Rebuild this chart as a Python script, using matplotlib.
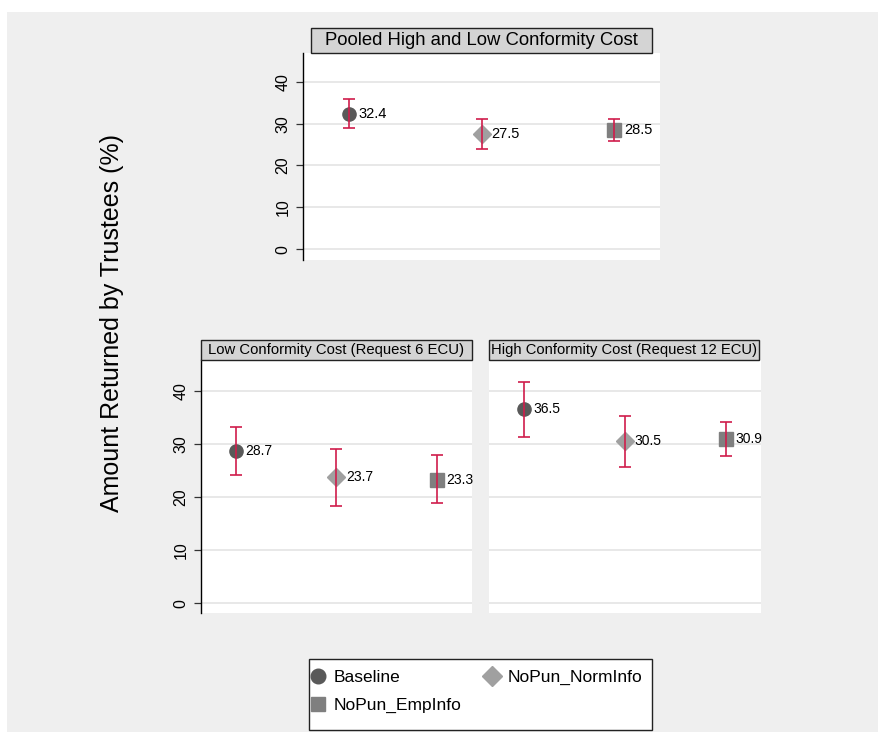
import numpy as np
import matplotlib.pyplot as plt
from matplotlib.patches import Rectangle
from matplotlib.lines import Line2D

plt.rcParams['font.family'] = ['Liberation Sans', 'DejaVu Sans']

# data
groups = ['Baseline', 'NoPun_NormInfo', 'NoPun_EmpInfo']
pooled_mean = [32.4, 27.5, 28.5]
pooled_lo = [29.0, 24.0, 25.9]
pooled_hi = [35.9, 31.2, 31.2]
low_mean = [28.7, 23.7, 23.3]
low_lo = [24.2, 18.4, 18.8]
low_hi = [33.2, 29.1, 28.0]
high_mean = [36.5, 30.5, 30.9]
high_lo = [31.3, 25.7, 27.7]
high_hi = [41.7, 35.3, 34.2]

markers = ['o', 'D', 's']
mcolors = ['#595959', '#a0a0a0', '#7f7f7f']
msizes = [9.5, 9.5, 9.5]
ci_color = '#d01c4b'

W, H = 879, 732
fig = plt.figure(figsize=(W / 100, H / 100), dpi=100, facecolor='white')

# gray plot region
fig.patches.append(Rectangle((7 / W, 0), (W - 7) / W, (H - 12) / H,
                             transform=fig.transFigure, facecolor='#efefef',
                             edgecolor='none', zorder=-5))


def px_rect(x0, y0, x1, y1):
    return [x0 / W, 1 - y1 / H, (x1 - x0) / W, (y1 - y0) / H]


def panel(rect, mean, lo, hi, ylim, title, title_box, tfs, show_y, lfs):
    ax = fig.add_axes(px_rect(*rect))
    ax.set_facecolor('white')
    x = np.arange(1, 4)
    for i in range(3):
        ax.errorbar(x[i], mean[i], yerr=[[mean[i] - lo[i]], [hi[i] - mean[i]]],
                    fmt='none', ecolor=ci_color, elinewidth=1.2, capsize=4,
                    capthick=1.2, zorder=4)
        ax.plot(x[i], mean[i], marker=markers[i], color=mcolors[i],
                markersize=msizes[i], linestyle='none', zorder=3)
        ax.annotate(f'{mean[i]:.1f}', (x[i], mean[i]), xytext=(7, 0),
                    textcoords='offset points', va='center', ha='left',
                    fontsize=lfs, zorder=5)
    ax.set_xlim(0.655, 3.345)
    ax.set_ylim(*ylim)
    ax.set_yticks([0, 10, 20, 30, 40])
    ax.grid(axis='y', color='#e6e6e6', linewidth=1.3)
    ax.set_axisbelow(True)
    ax.set_xticks([])
    for s in ['top', 'right', 'bottom']:
        ax.spines[s].set_visible(False)
    if show_y:
        ax.spines['left'].set_color('black')
        ax.spines['left'].set_linewidth(1.0)
        ax.tick_params(axis='y', length=5, width=0.9, color='#333333',
                       labelsize=11.5, pad=4)
        for lab in ax.get_yticklabels():
            lab.set_rotation(90)
            lab.set_va('center')
    else:
        ax.spines['left'].set_visible(False)
        ax.tick_params(axis='y', length=0, labelleft=False)
    # title strip
    bx0, by0, bx1, by1 = title_box
    fig.patches.append(Rectangle((bx0 / W, 1 - by1 / H), (bx1 - bx0) / W,
                                 (by1 - by0) / H, transform=fig.transFigure,
                                 facecolor='#d4d4d4', edgecolor='#222222',
                                 linewidth=1.0, zorder=2))
    fig.text((bx0 + bx1) / 2 / W, 1 - (by0 + by1) / 2 / H, title,
             ha='center', va='center', fontsize=tfs, zorder=3)
    return ax


ax1 = panel((303, 53, 660, 260), pooled_mean, pooled_lo, pooled_hi,
            (-2.6, 46.9), 'Pooled High and Low Conformity Cost',
            (311, 28, 652, 52.5), 13.3, True, 10.5)
ax2 = panel((201, 360, 471.7, 612.7), low_mean, low_lo, low_hi,
            (-1.77, 45.8), 'Low Conformity Cost (Request 6 ECU)',
            (201, 339.5, 471.7, 360), 10.7, True, 10)
ax3 = panel((489, 360, 761, 612.7), high_mean, high_lo, high_hi,
            (-1.77, 45.8), 'High Conformity Cost (Request 12 ECU)',
            (489, 339.5, 759.5, 360), 10.6, False, 10)

fig.text(112 / W, 1 - 323 / H, 'Amount Returned by Trustees (%)',
         rotation=90, ha='center', va='center', fontsize=18)

# legend, filled column by column: Baseline / EmpInfo, then NormInfo
fig.patches.append(Rectangle((309 / W, 1 - 730 / H), (652 - 309) / W,
                             (730 - 659) / H, transform=fig.transFigure,
                             facecolor='white', edgecolor='#222222',
                             linewidth=1.0, zorder=1))
order = [0, 2, 1]
handles = [Line2D([], [], marker=markers[i], color=mcolors[i],
                  markersize=msizes[i] + 1, linestyle='none') for i in order]
fig.legend(handles, [groups[i] for i in order], loc='upper left', ncol=2,
           frameon=False, bbox_to_anchor=(309 / W, 1 - 670 / H), fontsize=12.5,
           handlelength=1.0, handletextpad=0.4, columnspacing=1.3,
           labelspacing=0.73, borderpad=0.0, borderaxespad=0.0)

fig.savefig('out.png', dpi=100, facecolor='white')
